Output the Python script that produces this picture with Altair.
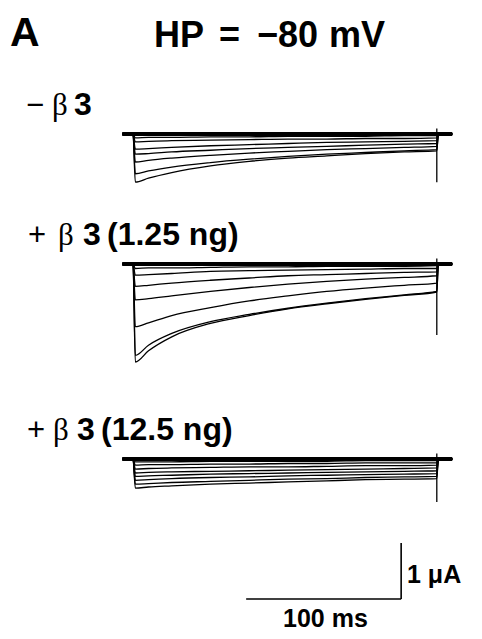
import altair as alt
import pandas as pd

TIMES = [1.5, 10, 25, 50, 75, 100, 125, 150, 175, 196]

# currents in uA, one list per test pulse
NO_B3 = [
    [-0.86, -0.79, -0.69, -0.57, -0.49, -0.43, -0.39, -0.35, -0.32, -0.30],
    [-0.71, -0.66, -0.59, -0.51, -0.45, -0.40, -0.36, -0.33, -0.30, -0.28],
    [-0.50, -0.47, -0.43, -0.38, -0.34, -0.31, -0.28, -0.26, -0.24, -0.22],
    [-0.36, -0.35, -0.32, -0.29, -0.26, -0.24, -0.22, -0.20, -0.18, -0.17],
    [-0.27, -0.26, -0.24, -0.21, -0.19, -0.17, -0.15, -0.14, -0.13, -0.12],
    [-0.14, -0.13, -0.12, -0.11, -0.10, -0.09, -0.09, -0.08, -0.08, -0.07],
    [-0.07, -0.06, -0.06, -0.05, -0.05, -0.04, -0.04, -0.04, -0.03, -0.03],
]
B3_125 = [
    [-1.75, -1.55, -1.30, -1.06, -0.92, -0.80, -0.71, -0.63, -0.56, -0.50],
    [-1.63, -1.45, -1.24, -1.03, -0.90, -0.79, -0.70, -0.62, -0.55, -0.49],
    [-1.12, -1.05, -0.92, -0.78, -0.66, -0.57, -0.49, -0.43, -0.38, -0.34],
    [-0.64, -0.62, -0.57, -0.49, -0.42, -0.36, -0.31, -0.27, -0.24, -0.21],
    [-0.40, -0.38, -0.34, -0.29, -0.25, -0.21, -0.19, -0.17, -0.15, -0.14],
    [-0.20, -0.19, -0.17, -0.13, -0.12, -0.11, -0.10, -0.09, -0.08, -0.08],
    [-0.08, -0.07, -0.07, -0.06, -0.05, -0.05, -0.04, -0.04, -0.04, -0.03],
]
B3_1250 = [
    [-0.52, -0.50, -0.48, -0.45, -0.43, -0.41, -0.39, -0.37, -0.36, -0.35],
    [-0.45, -0.44, -0.42, -0.40, -0.38, -0.36, -0.35, -0.33, -0.32, -0.31],
    [-0.38, -0.37, -0.35, -0.33, -0.32, -0.30, -0.29, -0.28, -0.27, -0.26],
    [-0.31, -0.30, -0.29, -0.27, -0.26, -0.25, -0.24, -0.23, -0.22, -0.21],
    [-0.25, -0.24, -0.23, -0.22, -0.21, -0.20, -0.19, -0.18, -0.17, -0.16],
    [-0.18, -0.17, -0.16, -0.15, -0.14, -0.14, -0.13, -0.12, -0.12, -0.11],
    [-0.11, -0.10, -0.10, -0.09, -0.09, -0.08, -0.08, -0.07, -0.07, -0.07],
    [-0.05, -0.05, -0.05, -0.04, -0.04, -0.04, -0.04, -0.03, -0.03, -0.03],
]
PANELS = [NO_B3, B3_125, B3_1250]
TAIL = [-0.86, -1.27, -0.77]          # deepest tail transient at the end of the step
REC_START, REC_END = -7, 206          # sweep extent, ms
STEP_END = 196

LABEL_SIGN = ["\u2212", "+", "+"]
LABEL_DOSE = ["", "(1.25 ng)", "(12.5 ng)"]
TITLE = ["HP", "=", "\u221280", "mV"]
SCALE_T, SCALE_I = 100, 1  # ms, uA

# layout: panel baselines, stacked on one current axis (uA), 56 px per uA
PAD_T = 10
OFFSET = [-(134 - 8 - PAD_T) / 56, -(264 - 8 - PAD_T) / 56, -(459 - 8 - PAD_T) / 56]
BAR_T0, BAR_Y = 73, -(599 - 8 - PAD_T) / 56
W, H = 466, 623 - PAD_T
xs = alt.Scale(domain=[-125 / 1.55, (W - 125) / 1.55], nice=False, zero=False)
ys = alt.Scale(domain=[-H / 56, 0], nice=False, zero=False)

rows = []
for p, traces in enumerate(PANELS):
    for k, vals in enumerate(traces):
        pts = [(REC_START, 0), (0, 0)] + list(zip(TIMES, vals)) + [(STEP_END + 1, 0), (REC_END, 0)]
        for s, (t, v) in enumerate(pts):
            rows.append({"t": t, "y": v + OFFSET[p], "trace": f"{p}-{k}", "seq": s})
traces_df = pd.DataFrame(rows)

base_df = pd.DataFrame({"t0": [REC_START] * 3, "t1": [REC_END] * 3, "y": OFFSET})
tail_df = pd.DataFrame({"t": [STEP_END] * 3, "y0": [o + 0.1 for o in OFFSET],
                        "y1": [o + a for o, a in zip(OFFSET, TAIL)]})
bar_df = pd.DataFrame({"t0": [BAR_T0, BAR_T0 + SCALE_T], "t1": [BAR_T0 + SCALE_T, BAR_T0 + SCALE_T],
                       "y0": [BAR_Y, BAR_Y], "y1": [BAR_Y, BAR_Y + SCALE_I]})

lines = alt.Chart(traces_df).mark_line(color="black", strokeWidth=1.3, interpolate="monotone").encode(
    x=alt.X("t:Q", scale=xs, axis=None),
    y=alt.Y("y:Q", scale=ys, axis=None),
    detail="trace:N",
    order="seq:Q",
)
base = alt.Chart(base_df).mark_rule(color="black", strokeWidth=4).encode(
    x=alt.X("t0:Q", scale=xs, axis=None), x2="t1:Q", y=alt.Y("y:Q", scale=ys, axis=None))
tails = alt.Chart(tail_df).mark_rule(color="black", strokeWidth=1.3).encode(
    x=alt.X("t:Q", scale=xs, axis=None), y=alt.Y("y0:Q", scale=ys, axis=None), y2="y1:Q")
bars = alt.Chart(bar_df).mark_rule(color="black", strokeWidth=1.6).encode(
    x=alt.X("t0:Q", scale=xs, axis=None), x2="t1:Q",
    y=alt.Y("y0:Q", scale=ys, axis=None), y2="y1:Q")

one = pd.DataFrame({"a": [0]})


def txt(s, x, y, size, bold=True, font="Liberation Sans"):
    return alt.Chart(one).mark_text(
        align="left", baseline="alphabetic", font=font, fontSize=size,
        fontWeight="bold" if bold else "normal", color="black",
    ).encode(text=alt.value(s), x=alt.value(x - 8), y=alt.value(y - 8 - PAD_T))


texts = [txt("A", 10, 46, 41)]
for s, x in zip(TITLE, [154, 219, 257, 329]):
    texts.append(txt(s, x, 47, 36))
lab_y = [115, 245, 440]
sign_x = [26, 28, 27]
beta_x = [52, 58, 53]
three_x = [74, 83, 77]
dose_x = [None, 107, 101]
for i in range(3):
    texts.append(txt(LABEL_SIGN[i], sign_x[i], lab_y[i], 31, bold=False))
    texts.append(txt("\u03b2", beta_x[i], lab_y[i], 31, bold=False, font="Liberation Serif"))
    texts.append(txt("3", three_x[i], lab_y[i], 32))
    if LABEL_DOSE[i]:
        texts.append(txt(LABEL_DOSE[i], dose_x[i], lab_y[i], 32))
texts.append(txt(f"{SCALE_I} \u03bcA", 407, 583, 25))
texts.append(txt(f"{SCALE_T} ms", 283, 627, 25))

chart = alt.layer(base, lines, tails, bars, *texts).properties(
    width=W, height=H, padding={"top": PAD_T, "left": 0, "right": 0, "bottom": 0}, autosize="none"
).configure_view(strokeWidth=0)

chart.save("out.html", embed_options={"renderer": "svg", "actions": False})
